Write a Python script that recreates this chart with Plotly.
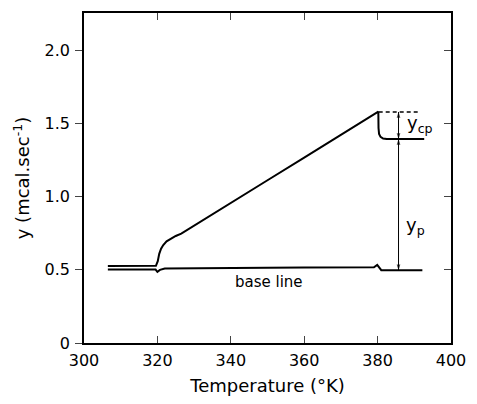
import plotly.graph_objects as go

# Heating-run curve (temperature K, y in mcal/sec)
run_T = [306.5, 310, 315, 319.6, 320.1, 320.5, 321.0, 321.6, 322.5, 323.5, 325.0, 326.5,
         330, 340, 350, 360, 370, 379.9, 380.2, 380.25, 380.4, 380.8, 381.5, 382.5, 386, 390, 392.7]
run_y = [0.527, 0.528, 0.528, 0.528, 0.56, 0.61, 0.645, 0.67, 0.695, 0.712, 0.732, 0.748,
         0.803, 0.958, 1.113, 1.268, 1.423, 1.578, 1.582, 1.47, 1.43, 1.41, 1.398, 1.395, 1.395, 1.395, 1.395]

# Base line
base_T = [306.5, 312, 319.5, 320.0, 320.7, 322, 330, 340, 350, 360, 370, 379.0, 379.9, 380.4, 381.0, 385, 392.2]
base_y = [0.503, 0.503, 0.502, 0.487, 0.500, 0.509, 0.512, 0.514, 0.515, 0.516, 0.517, 0.518, 0.534, 0.52, 0.498, 0.498, 0.498]

# Dashed extension of peak
dash_T = [380.3, 391.7]
dash_y = [1.58, 1.58]

# Measurement arrows (vertical line at arrow_T, heads at each level)
arrow_T = 385.7
arrow_levels = [1.58, 1.395, 0.498]
ycp_mid = 1.49
yp_mid = 0.95

xticks = [300, 320, 340, 360, 380, 400]
yticks = [0, 0.5, 1.0, 1.5, 2.0]
yticklabels = ["0", "0.5", "1.0", "1.5", "2.0"]

FONT = "DejaVu Sans"

fig = go.Figure()
fig.add_trace(go.Scatter(x=run_T, y=run_y, mode="lines",
                         line=dict(color="black", width=2), hoverinfo="skip"))
fig.add_trace(go.Scatter(x=base_T, y=base_y, mode="lines",
                         line=dict(color="black", width=2), hoverinfo="skip"))
fig.add_trace(go.Scatter(x=dash_T, y=dash_y, mode="lines", yaxis="y2",
                         line=dict(color="black", width=1.4, dash="4px,3px"), hoverinfo="skip"))

# vertical measuring line
fig.add_trace(go.Scatter(x=[arrow_T, arrow_T], y=[arrow_levels[0], arrow_levels[-1]], mode="lines",
                         line=dict(color="black", width=1), hoverinfo="skip"))
# arrow heads: segments from midpoints towards each level
for start, end in [(ycp_mid, arrow_levels[0]), (ycp_mid, arrow_levels[1]),
                   (yp_mid, arrow_levels[1]), (yp_mid, arrow_levels[2])]:
    fig.add_trace(go.Scatter(x=[arrow_T, arrow_T], y=[start, end], mode="markers",
                             marker=dict(symbol="arrow", angleref="previous", size=[0, 6],
                                         color="black", line=dict(width=0)),
                             hoverinfo="skip"))

fig.add_annotation(x=387.4, y=1.50, xref="x", yref="y", xanchor="left",
                   text="y<sub>cp</sub>", showarrow=False,
                   font=dict(family=FONT, size=18, color="black"))
fig.add_annotation(x=387.1, y=0.80, xref="x", yref="y", xanchor="left",
                   text="y<sub>p</sub>", showarrow=False,
                   font=dict(family=FONT, size=18, color="black"))
fig.add_annotation(x=350.5, y=0.42, xref="x", yref="y",
                   text="base line", showarrow=False,
                   font=dict(family=FONT, size=15, color="black"))

yr = [0, 2.257]
fig.update_layout(
    width=477, height=404,
    margin=dict(l=84, r=18, t=11, b=59),
    paper_bgcolor="white", plot_bgcolor="white",
    showlegend=False,
    font=dict(family=FONT, size=16, color="black"),
    xaxis=dict(range=[300, 400], tickvals=xticks, ticks="inside", ticklen=7,
               tickwidth=1.2, showline=True, linecolor="black", linewidth=1.5,
               mirror="ticks", showgrid=False, zeroline=False, ticklabelstandoff=2,
               title=dict(text="Temperature (°K)", font=dict(family=FONT, size=18), standoff=10)),
    yaxis=dict(range=yr, tickvals=yticks, ticktext=yticklabels, ticks="outside", ticklen=7,
               tickwidth=1.2, showline=True, linecolor="black", linewidth=1.5,
               mirror=True, showgrid=False, zeroline=False, ticklabelstandoff=2,
               title=dict(text="y (mcal.sec<sup>-1</sup>)", font=dict(family=FONT, size=18), standoff=10)),
    yaxis2=dict(range=yr, overlaying="y", side="right", tickvals=yticks, ticks="inside",
                ticklen=7, tickwidth=1.2, showticklabels=False, showline=False,
                showgrid=False, zeroline=False),
)

fig.write_html("out.html")
